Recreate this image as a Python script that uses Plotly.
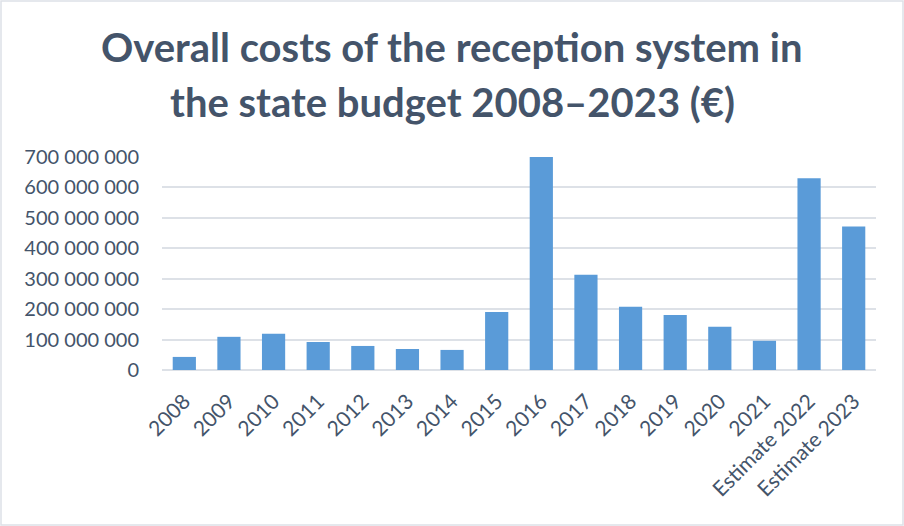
import plotly.graph_objects as go

categories = ["2008", "2009", "2010", "2011", "2012", "2013", "2014", "2015", "2016",
              "2017", "2018", "2019", "2020", "2021", "Estimate 2022", "Estimate 2023"]
costs = [43e6, 109e6, 119e6, 92e6, 79e6, 69e6, 66e6, 191e6, 700e6,
         313e6, 208e6, 181e6, 142e6, 96e6, 630e6, 472e6]
y_ticks = [0, 100e6, 200e6, 300e6, 400e6, 500e6, 600e6, 700e6]
title_lines = ["Overall costs of the reception system in",
               "the state budget 2008–2023 (€)"]

text_color = "#44546A"
font_family = "Lato, 'Open Sans', sans-serif"

fig = go.Figure()
fig.add_trace(go.Bar(
    x=categories, y=costs,
    marker=dict(color="#5A9BD8", line=dict(width=0)),
    hoverinfo="x+y",
))

W, H = 904, 526
ml, mr, mt, mb = 162, 28, 157, 156
ph = H - mt - mb
pw = W - ml - mr


def py(px):
    return (H - mb - px) / ph


annotations = []
for line, center_px in zip(title_lines, [47, 102]):
    annotations.append(dict(
        text="<b>" + line + "</b>", xref="paper", yref="paper",
        x=(W / 2 - ml) / pw, y=py(center_px), xanchor="center", yanchor="middle",
        showarrow=False, font=dict(family=font_family, size=40, color=text_color),
    ))

fig.update_layout(
    width=W, height=H,
    margin=dict(l=ml, r=mr, t=mt, b=mb, autoexpand=False),
    paper_bgcolor="white", plot_bgcolor="white",
    separators=". ",
    bargap=0.48,
    showlegend=False,
    font=dict(family=font_family, color=text_color, size=18),
    annotations=annotations,
    xaxis=dict(
        tickangle=-45, showgrid=False, showline=False, zeroline=False,
        tickfont=dict(size=21, color=text_color), ticks="",
        ticklabelstandoff=14, automargin=False,
    ),
    yaxis=dict(
        range=[0, 700e6], tickvals=y_ticks, tickformat=",d",
        showgrid=True, gridcolor="#DDE1E7", gridwidth=1.5,
        zeroline=True, zerolinecolor="#DDE1E7", zerolinewidth=1.5,
        showline=False, ticks="", ticklabelstandoff=22,
        tickfont=dict(size=20, color=text_color),
        automargin=False,
    ),
    shapes=[dict(
        type="rect", xref="paper", yref="paper",
        x0=(-ml + 1) / pw, x1=(W - ml - 1) / pw,
        y0=(-mb + 1) / ph, y1=(H - mb - 1) / ph,
        line=dict(color="#DDE1E7", width=1.5), fillcolor="rgba(0,0,0,0)",
        layer="below",
    )],
)

fig.write_html("out.html")
